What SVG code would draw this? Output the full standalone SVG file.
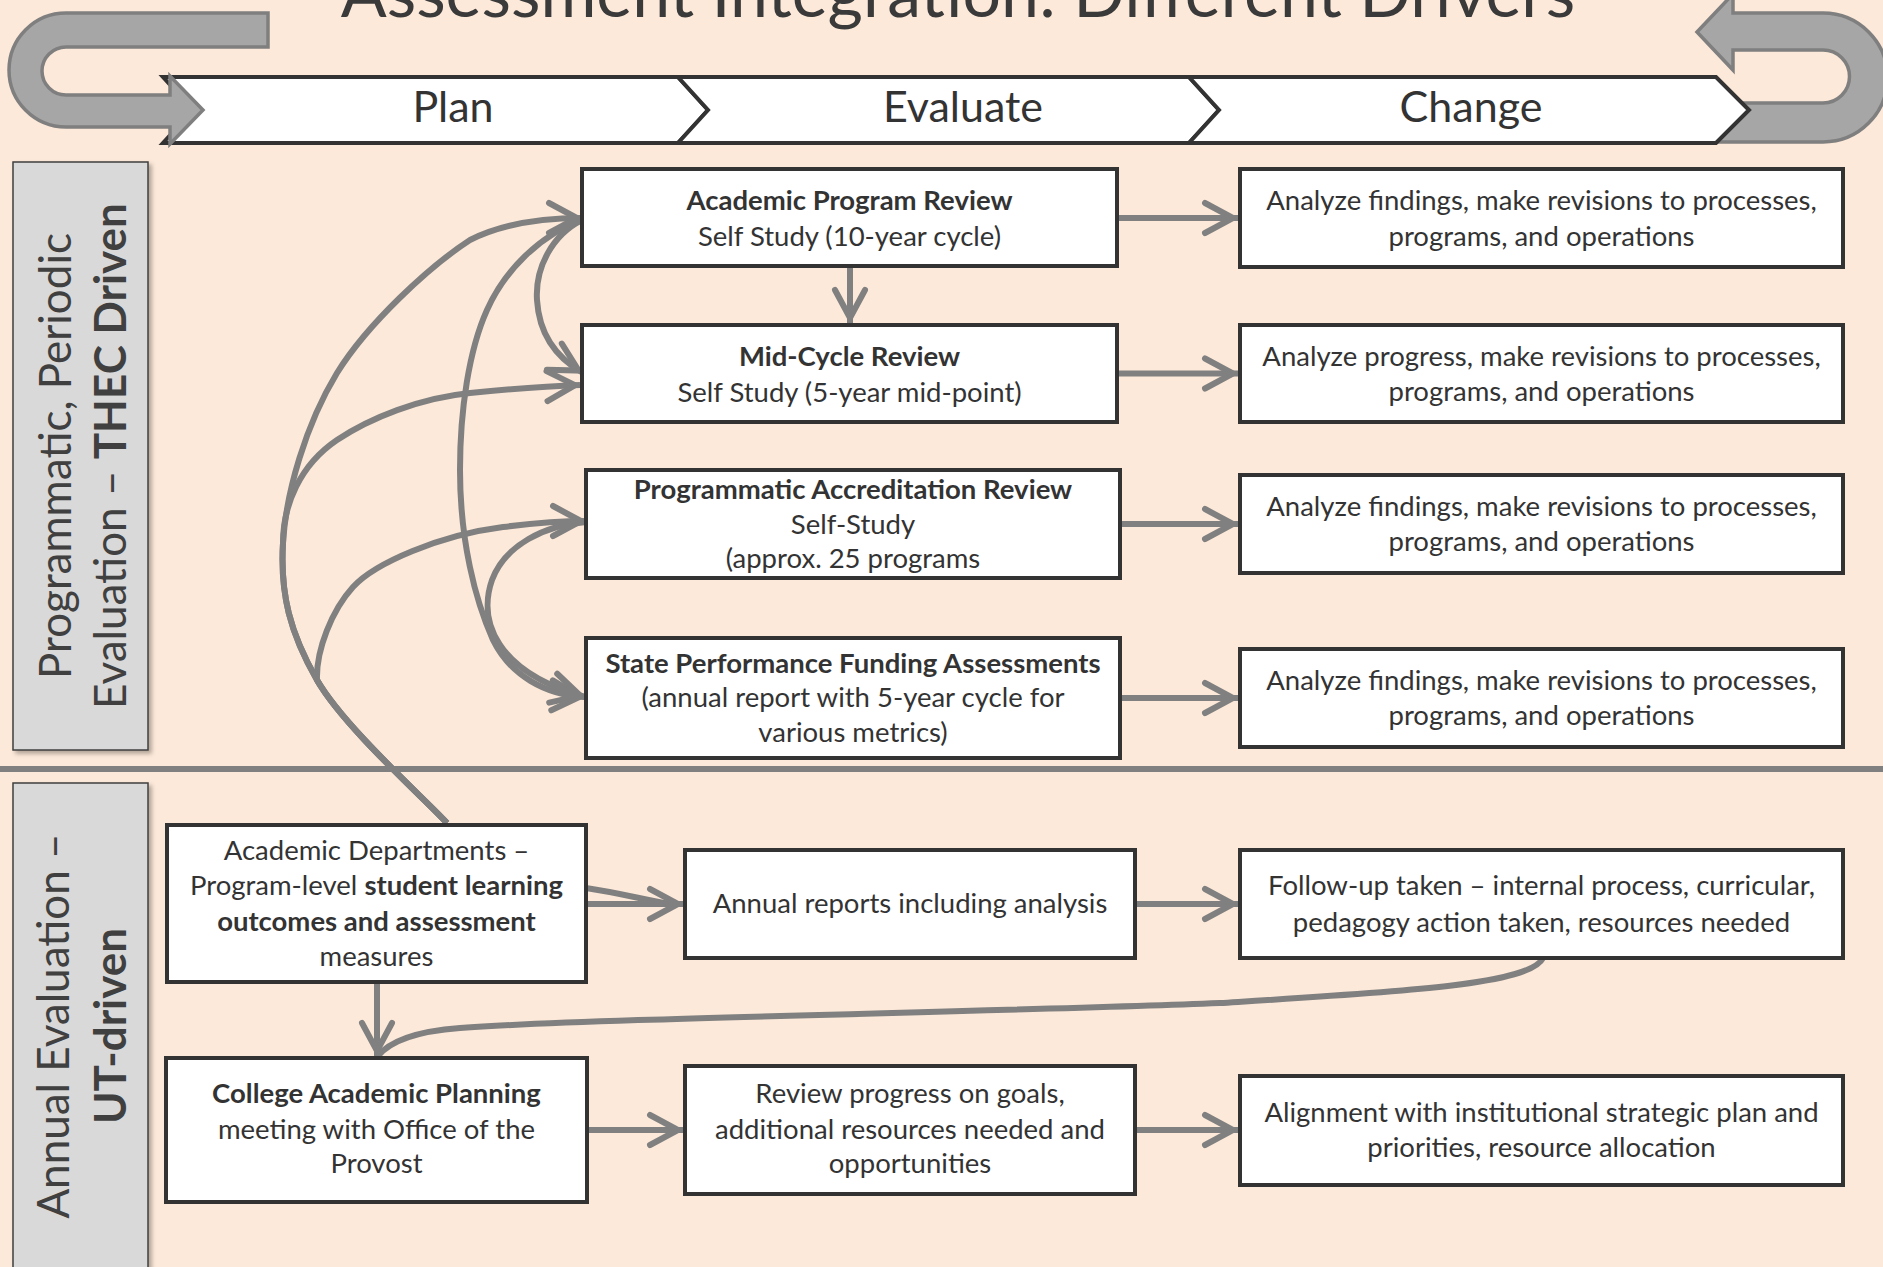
<svg xmlns="http://www.w3.org/2000/svg" width="1883" height="1267" viewBox="0 0 1883 1267">
<defs>
<style>
.t{font-family:Lato,"Liberation Sans",sans-serif;font-size:27.5px;fill:#333;text-anchor:middle}
.b{font-weight:bold}
.box{fill:#fff;stroke:#333;stroke-width:4}
.chev{fill:#fff;stroke:#333;stroke-width:4;stroke-linejoin:miter}
.uarr{fill:#a6a6a6;stroke:#7f7f7f;stroke-width:3.5}
.lbl{fill:#d9d9d9;stroke:#3f3f3f;stroke-width:1.5}
.lt{font-family:Lato,"Liberation Sans",sans-serif;font-size:44px;fill:#404040;text-anchor:middle}
.ht{font-family:Lato,"Liberation Sans",sans-serif;font-size:43px;fill:#333;text-anchor:middle}
.c{fill:none;stroke:#808080;stroke-width:6}
.ca{fill:none;stroke:#808080;stroke-width:6;marker-end:url(#ah)}
</style>
<marker id="ah" markerUnits="userSpaceOnUse" viewBox="-44 -22 48 44" refX="0" refY="0" markerWidth="48" markerHeight="44" orient="auto">
<path d="M-33,-15 L-5,0 L-33,15" fill="none" stroke="#808080" stroke-width="6" stroke-linecap="round" stroke-linejoin="miter"/>
</marker>
<filter id="sh" x="-10%" y="-10%" width="130%" height="130%">
<feDropShadow dx="3" dy="3" stdDeviation="2" flood-color="#000" flood-opacity="0.3"/>
</filter>
</defs>
<rect width="1883" height="1267" fill="#fde9d9"/>
<text x="958" y="17" font-family="Lato,'Liberation Sans',sans-serif" font-size="68" fill="#3a3a3a" text-anchor="middle">Assessment Integration: Different Drivers</text>

<g id="header">
<path class="uarr" d="M1697,32 L1733,-6 L1733,13 L1823,13 A64.5,64.5 0 0 1 1823,142 L1700,142 L1700,103 L1823,103 A26.5,26.5 0 0 0 1823,50 L1733,50 L1733,70 Z"/>
<g id="plan"><path class="chev" d="M163,77 L678,77 L708,110 L678,143 L163,143 L193,110 Z"/><text class="ht" x="453" y="122">Plan</text></g>
<g id="evaluate"><path class="chev" d="M678,77 L1189,77 L1219,110 L1189,143 L678,143 L708,110 Z"/><text class="ht" x="963" y="122">Evaluate</text></g>
<g id="change"><path class="chev" d="M1189,77 L1716,77 L1749,110 L1716,143 L1189,143 L1219,110 Z"/><text class="ht" x="1471" y="122">Change</text></g>
<path class="uarr" d="M268,13 L66,13 A57,57 0 0 0 66,127 L170,127 L170,144 L203,110 L170,76 L170,95 L66,95 A24,24 0 0 1 66,47 L268,47 Z"/>
</g>

<g id="label-thec">
<rect class="lbl" x="13" y="162" width="135" height="588" filter="url(#sh)"/>
<text class="lt" transform="translate(71,456) rotate(-90)">Programmatic,  Periodic</text>
<text class="lt" transform="translate(126,456) rotate(-90)">Evaluation – <tspan class="b">THEC Driven</tspan></text>
</g>
<g id="label-ut">
<rect class="lbl" x="13" y="783" width="135" height="500" filter="url(#sh)"/>
<text class="lt" transform="translate(69,1026) rotate(-90)">Annual Evaluation –</text>
<text class="lt b" transform="translate(126,1026) rotate(-90)">UT-driven</text>
</g>
<line x1="0" y1="769" x2="1883" y2="769" stroke="#808080" stroke-width="6"/>

<g id="connectors">
<path class="ca" d="M447,823 C425,799 344,727 317,680 C290,633 280,594 283,543 C286,492 306,424 337,373 C368,323 430,266 470,240 C510,220 555,218 582,218"/>
<path class="ca" d="M447,823 C425,799 344,727 317,680 C290,633 280,594 283,543 C283,505 300,465 337,440 C370,418 420,398 470,393 C510,389 550,386 580,385"/>
<path class="ca" d="M447,823 C425,799 344,727 317,680 C316,650 332,610 353,587 C375,563 440,535 503,527 C535,523 560,521 586,521"/>
<path class="ca" d="M582,220 C540,235 505,270 487,310 C469,350 460,410 460,470 C460,540 475,600 493,640 C510,675 545,695 585,697"/>
<path class="ca" d="M582,220 C552,235 535,268 537,300 C539,333 555,357 583,373"/>
<path class="ca" d="M586,522 C545,525 505,545 492,580 C478,620 495,672 585,697"/>
<path class="ca" d="M850,266 L850,323"/>
<path class="ca" d="M1117,218 L1238,218"/>
<path class="ca" d="M1117,373.5 L1238,373.5"/>
<path class="ca" d="M1120,524 L1238,524"/>
<path class="ca" d="M1120,698 L1238,698"/>
<path class="c" d="M586,888 C620,893 645,900 670,904"/>
<path class="ca" d="M586,904 L683,904"/>
<path class="ca" d="M1135,904 L1238,904"/>
<path class="c" d="M1543,958 C1530,985 1400,992 1220,1003 C1000,1012 600,1018 460,1028 C420,1031 390,1040 377,1057"/>
<path class="ca" d="M377,982 L377,1056"/>
<path class="ca" d="M587,1130 L683,1130"/>
<path class="ca" d="M1135,1130 L1238,1130"/>
</g>

<g id="apr"><rect class="box" x="582" y="169" width="535" height="97"/>
<text class="t b" x="849.5" y="210">Academic Program Review</text>
<text class="t" x="849.5" y="246">Self Study (10-year cycle)</text></g>
<g id="mid"><rect class="box" x="582" y="325" width="535" height="97"/>
<text class="t b" x="849.5" y="366">Mid-Cycle Review</text>
<text class="t" x="849.5" y="402">Self Study (5-year mid-point)</text></g>
<g id="par"><rect class="box" x="586" y="470" width="534" height="108"/>
<text class="t b" x="853" y="499">Programmatic Accreditation Review</text>
<text class="t" x="853" y="534">Self-Study</text>
<text class="t" x="853" y="568">(approx. 25 programs</text></g>
<g id="spf"><rect class="box" x="586" y="638" width="534" height="120"/>
<text class="t b" x="853" y="672.5">State Performance Funding Assessments</text>
<text class="t" x="853" y="707">(annual report with 5-year cycle for</text>
<text class="t" x="853" y="742">various metrics)</text></g>
<g id="ch1"><rect class="box" x="1240" y="169" width="603" height="98"/>
<text class="t" x="1541.5" y="210">Analyze findings, make revisions to processes,</text>
<text class="t" x="1541.5" y="245.5">programs, and operations</text></g>
<g id="ch2"><rect class="box" x="1240" y="325" width="603" height="97"/>
<text class="t" x="1541.5" y="365.5">Analyze progress, make revisions to processes,</text>
<text class="t" x="1541.5" y="401">programs, and operations</text></g>
<g id="ch3"><rect class="box" x="1240" y="475" width="603" height="98"/>
<text class="t" x="1541.5" y="515.5">Analyze findings, make revisions to processes,</text>
<text class="t" x="1541.5" y="551">programs, and operations</text></g>
<g id="ch4"><rect class="box" x="1240" y="649" width="603" height="98"/>
<text class="t" x="1541.5" y="689.5">Analyze findings, make revisions to processes,</text>
<text class="t" x="1541.5" y="725">programs, and operations</text></g>
<g id="acad"><rect class="box" x="167" y="825" width="419" height="157"/>
<text class="t" x="376.5" y="860">Academic Departments –</text>
<text class="t" x="376.5" y="895">Program-level <tspan class="b">student learning</tspan></text>
<text class="t b" x="376.5" y="930.5">outcomes and assessment</text>
<text class="t" x="376.5" y="965.5">measures</text></g>
<g id="annual"><rect class="box" x="685" y="850" width="450" height="108"/>
<text class="t" x="910" y="913">Annual reports including analysis</text></g>
<g id="follow"><rect class="box" x="1240" y="850" width="603" height="108"/>
<text class="t" x="1541.5" y="895">Follow-up taken – internal process, curricular,</text>
<text class="t" x="1541.5" y="931.5">pedagogy action taken, resources needed</text></g>
<g id="college"><rect class="box" x="166" y="1058" width="421" height="144"/>
<text class="t b" x="376.5" y="1103">College Academic Planning</text>
<text class="t" x="376.5" y="1139">meeting with Office of the</text>
<text class="t" x="376.5" y="1173">Provost</text></g>
<g id="review"><rect class="box" x="685" y="1066" width="450" height="128"/>
<text class="t" x="910" y="1103">Review progress on goals,</text>
<text class="t" x="910" y="1139">additional resources needed and</text>
<text class="t" x="910" y="1173">opportunities</text></g>
<g id="align"><rect class="box" x="1240" y="1076" width="603" height="109"/>
<text class="t" x="1541.5" y="1121.5">Alignment with institutional strategic plan and</text>
<text class="t" x="1541.5" y="1157">priorities, resource allocation</text></g>
</svg>
